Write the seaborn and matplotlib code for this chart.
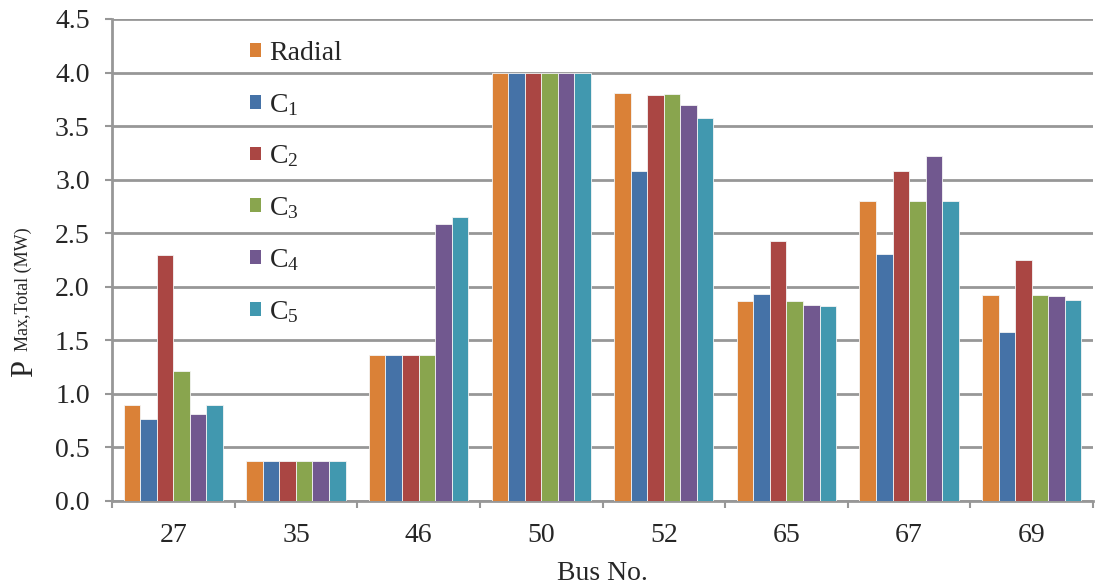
import matplotlib
matplotlib.use("Agg")
import matplotlib.pyplot as plt
from matplotlib.patches import Patch
from matplotlib.ticker import FixedLocator, FormatStrFormatter
import numpy as np
import pandas as pd
import seaborn as sns

# Bus numbers and maximum total power per configuration (MW)
buses = ["27", "35", "46", "50", "52", "65", "67", "69"]
configs = ["Radial", "C1", "C2", "C3", "C4", "C5"]
radial = [0.90, 0.37, 1.36, 4.00, 3.81, 1.87, 2.80, 1.92]
c1 = [0.77, 0.37, 1.36, 4.00, 3.08, 1.93, 2.31, 1.58]
c2 = [2.30, 0.37, 1.36, 4.00, 3.79, 2.43, 3.08, 2.25]
c3 = [1.21, 0.37, 1.36, 4.00, 3.80, 1.87, 2.80, 1.92]
c4 = [0.81, 0.37, 2.59, 4.00, 3.70, 1.83, 3.22, 1.91]
c5 = [0.90, 0.37, 2.65, 4.00, 3.58, 1.82, 2.80, 1.88]
legend_labels = ["Radial", r"C$_\mathregular{1}$", r"C$_\mathregular{2}$",
                 r"C$_\mathregular{3}$", r"C$_\mathregular{4}$", r"C$_\mathregular{5}$"]
colors = ["#DA8137", "#4572A7", "#AA4643", "#89A54E", "#71588F", "#4198AF"]

series = [radial, c1, c2, c3, c4, c5]
df = pd.DataFrame({
    "bus": np.tile(buses, len(configs)),
    "config": np.repeat(configs, len(buses)),
    "value": np.concatenate(series),
})

sns.set_theme(style="white")
plt.rcParams["font.family"] = ["Liberation Serif", "DejaVu Serif"]
plt.rcParams["mathtext.fontset"] = "custom"
plt.rcParams["mathtext.rm"] = "Liberation Serif"
plt.rcParams["mathtext.it"] = "Liberation Serif:italic"

W, H = 1097, 588
fig = plt.figure(figsize=(W / 100, H / 100), dpi=100)
ax = fig.add_axes([112 / W, 87 / H, 981 / W, 482 / H])

grid_col = "#979797"
sns.barplot(data=df, x="bus", y="value", hue="config", order=buses,
            hue_order=configs, palette=colors, saturation=1, width=0.81, ax=ax,
            edgecolor="#f4f4f4", linewidth=0.6, legend=False, zorder=3)

ax.set_ylim(0, 4.5)
ax.set_xlim(-0.5, len(buses) - 0.5)
ax.set_yticks(np.arange(0, 4.51, 0.5))
ax.yaxis.set_major_formatter(FormatStrFormatter("%.1f"))
ax.yaxis.grid(True, color=grid_col, linewidth=2, zorder=0)
ax.set_axisbelow(True)

# Category boundaries carry the x tick marks
ax.xaxis.set_minor_locator(FixedLocator(np.arange(-0.5, len(buses), 1.0)))
ax.tick_params(axis="x", which="major", length=0, pad=16, labelsize=20)
ax.tick_params(axis="x", which="minor", length=5, width=1.5, color=grid_col,
               direction="out", bottom=True)
ax.tick_params(axis="y", which="major", length=5, width=1.5, color=grid_col,
               direction="out", left=True, labelsize=20, pad=11)

for side in ["top", "right"]:
    ax.spines[side].set_visible(False)
for side in ["left", "bottom"]:
    ax.spines[side].set_color(grid_col)
    ax.spines[side].set_linewidth(2)

ax.set_xlabel("Bus No.", fontsize=20, labelpad=9)
ax.set_ylabel("")

# Y axis title: large P followed by smaller descriptor text
fig.text(32 / W, 1 - 377 / H, "P", rotation=90, rotation_mode="anchor",
         ha="left", va="baseline", fontsize=22)
fig.text(28 / W, 1 - 351 / H, "Max,Total (MW)", rotation=90, rotation_mode="anchor",
         ha="left", va="baseline", fontsize=13)

handles = [Patch(facecolor=c, edgecolor="none") for c in colors]
ax.legend(handles, legend_labels, loc="upper left",
          bbox_to_anchor=(250 / W, 1 - 41 / H), bbox_transform=fig.transFigure,
          frameon=False, fontsize=20, handlelength=0.38, handleheight=0.38,
          handletextpad=0.3, labelspacing=0.93, borderpad=0, borderaxespad=0)

fig.savefig("out.png", dpi=100)
